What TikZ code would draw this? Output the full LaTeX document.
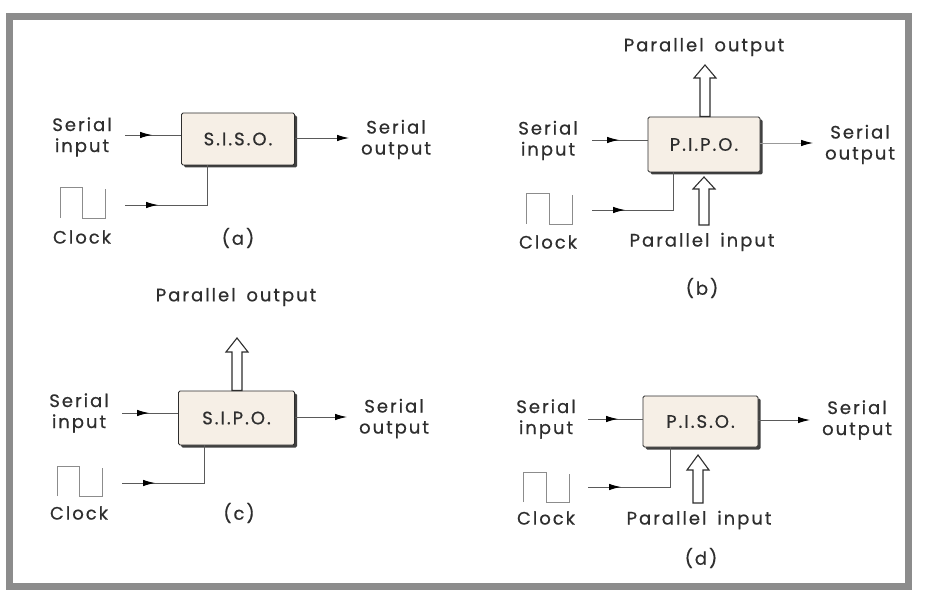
\documentclass[tikz,border=0pt]{standalone}
\usepackage{fontspec}
\setmainfont{Poppins}[LetterSpace=11,FakeBold=0.6,WordSpace=1.6]
\usetikzlibrary{arrows.meta,decorations.markings,shadows}
\definecolor{inkc}{HTML}{2E2E2E}
\definecolor{linec}{HTML}{5A5A5A}
\definecolor{boxfill}{HTML}{F6EFE6}
\definecolor{framec}{HTML}{8C8C8C}
\tikzset{
  lbl/.style={text=inkc, font=\fontsize{18}{21}\selectfont, align=center, inner sep=0pt},
  regbox/.style={draw=inkc, line width=0.8pt, fill=boxfill, rounded corners=1.5pt,
    font=\fontsize{18}{21}\selectfont, text=inkc,
    drop shadow={shadow xshift=2.5pt, shadow yshift=-2.5pt, fill=black!75, opacity=1}},
  sig/.style={draw=linec, line width=0.9pt},
  endarrow/.style={sig, -{Latex[length=12pt,width=6.5pt,color=black]}},
  midarrow/.style={sig, postaction={decorate}, decoration={markings,
     mark=at position #1 with {\arrow{Latex[length=12pt,width=6.5pt,color=black]}}}},
  wave/.style={draw=black!45, line width=0.9pt},
  hollow/.style={draw=inkc, line width=1.1pt, fill=white, line join=miter},
}
% hollow arrow: x, tip y, head-base y, tail y
\newcommand{\hollowarrow}[4]{%
  \draw[hollow] (#1-5,#4) -- (#1-5,#3) -- (#1-11,#3) -- (#1,#2) -- (#1+11,#3) -- (#1+5,#3) -- (#1+5,#4) -- cycle;}
\newcommand{\clockwave}[5]{% x0 x1 x2 top bottom
  \draw[wave] (#1,#5) -- (#1,#4) -- (#2,#4) -- (#2,#5) -- (#3,#5) -- (#3,#4+2);}
\begin{document}
\begin{tikzpicture}[x=1pt,y=-1pt]
\useasboundingbox (0,0) rectangle (926,593);
\draw[framec, line width=6.5pt] (9.5,16.5) rectangle (908.5,586.5);

% ---------------- (a) SISO
\node[regbox, minimum width=113pt, minimum height=52pt] (siso) at (238,139) {S.I.S.O.};
\node[lbl] (a-sil) at (82,137) {Serial\\input};
\node[lbl] (a-sol) at (396,139.5) {Serial\\output};
\node[lbl] (a-ckl) at (82,237) {Clock};
\node[lbl] (a-cap) at (238,238) {(a)};
\clockwave{60}{82}{105}{187}{218}
\coordinate (a-si) at (125,135);
\coordinate (a-so) at (349,138);
\coordinate (a-ck) at (125,205);
\draw[midarrow=27pt] (a-si) -- (a-si -| siso.west);
\draw[endarrow] (siso.east |- a-so) -- (a-so);
\draw[midarrow=33pt] (a-ck) -| ([xshift=-31pt]siso.south);

% ---------------- (b) PIPO
\node[regbox, minimum width=112pt, minimum height=55pt] (pipo) at (704,144.5) {P.I.P.O.};
\node[lbl] (b-sil) at (548,140.5) {Serial\\input};
\node[lbl] (b-sol) at (860,144.5) {Serial\\output};
\node[lbl] (b-ckl) at (548,242) {Clock};
\node[lbl] (b-pol) at (704,47) {Parallel output};
\node[lbl] (b-pil) at (702,242) {Parallel input};
\node[lbl] (b-cap) at (702,288) {(b)};
\clockwave{526}{549}{572}{193}{224}
\coordinate (b-si) at (592,140);
\coordinate (b-so) at (813,143);
\coordinate (b-ck) at (592,210);
\draw[midarrow=27pt] (b-si) -- (b-si -| pipo.west);
\draw[endarrow, draw=black!40] (pipo.east |- b-so) -- (b-so);
\draw[midarrow=33pt] (b-ck) -| ([xshift=-31pt]pipo.south);
\hollowarrow{705}{65}{78}{116.5}
\hollowarrow{704}{177}{189}{225}

% ---------------- (c) SIPO
\node[regbox, minimum width=116pt, minimum height=54pt] (sipo) at (236.5,418) {S.I.P.O.};
\node[lbl] (c-sil) at (79,413) {Serial\\input};
\node[lbl] (c-sol) at (394,418.5) {Serial\\output};
\node[lbl] (c-ckl) at (79,513) {Clock};
\node[lbl] (c-pol) at (236,297) {Parallel output};
\node[lbl] (c-cap) at (239,513) {(c)};
\clockwave{57}{79}{102}{466}{496}
\coordinate (c-si) at (122,413);
\coordinate (c-so) at (347,417);
\coordinate (c-ck) at (122,483);
\draw[midarrow=27pt] (c-si) -- (c-si -| sipo.west);
\draw[endarrow] (sipo.east |- c-so) -- (c-so);
\draw[midarrow=33pt] (c-ck) -| ([xshift=-32.5pt]sipo.south);
\hollowarrow{237}{338}{352}{390.5}

% ---------------- (d) PISO
\node[regbox, minimum width=115pt, minimum height=51pt] (piso) at (700.5,421.5) {P.I.S.O.};
\node[lbl] (d-sil) at (546,419) {Serial\\input};
\node[lbl] (d-sol) at (857,420) {Serial\\output};
\node[lbl] (d-ckl) at (546,518) {Clock};
\node[lbl] (d-pil) at (699,520) {Parallel input};
\node[lbl] (d-cap) at (701,558) {(d)};
\clockwave{523}{546}{569}{472}{502}
\coordinate (d-si) at (588,419);
\coordinate (d-so) at (810,420);
\coordinate (d-ck) at (588,487);
\draw[midarrow=30pt] (d-si) -- (d-si -| piso.west);
\draw[endarrow] (piso.east |- d-so) -- (d-so);
\draw[midarrow=33pt] (d-ck) -| ([xshift=-30.5pt]piso.south);
\hollowarrow{698}{455}{470}{503}
\end{tikzpicture}
\end{document}
